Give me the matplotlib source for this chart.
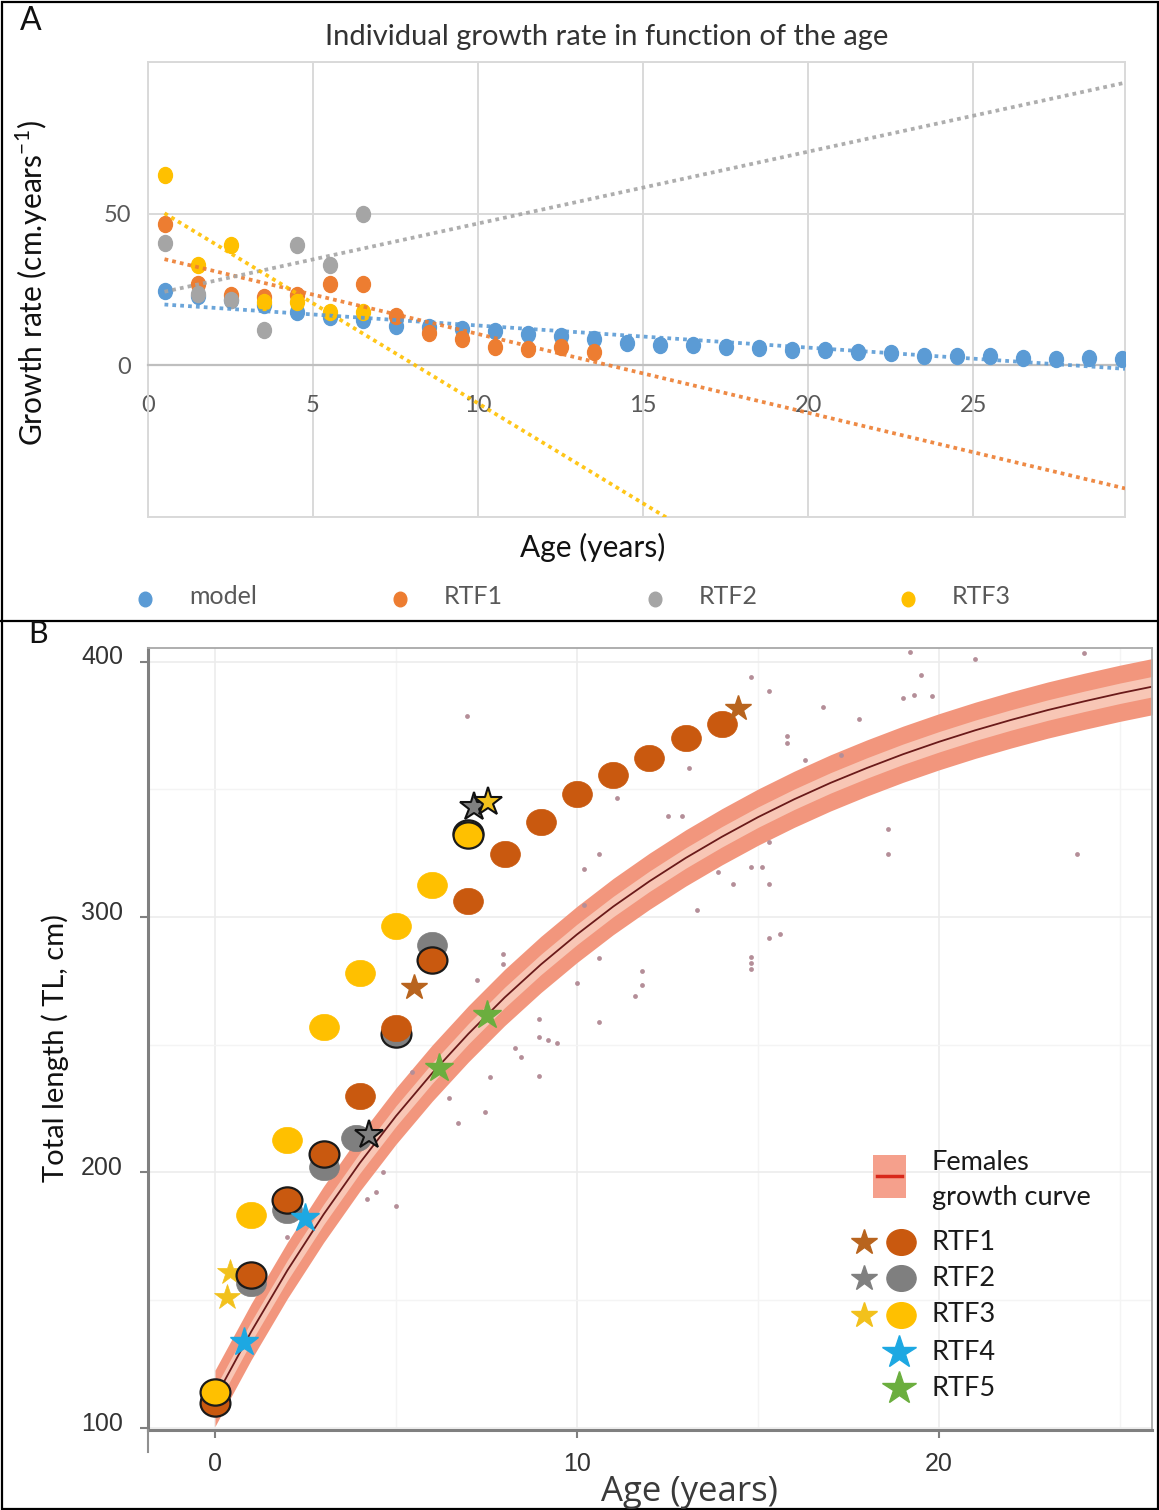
import numpy as np
import matplotlib
matplotlib.use('Agg')
import matplotlib.pyplot as plt
from matplotlib.path import Path
from matplotlib.transforms import Affine2D, ScaledTranslation
from matplotlib.patches import Rectangle

W, H, DPI = 1159, 1510, 100

# ---------------- Panel A data ----------------
age_a = [0.5, 1.5, 2.5, 3.5, 4.5, 5.5, 6.5, 7.5, 8.5, 9.5, 10.5, 11.5, 12.5, 13.5, 14.5,
         15.5, 16.5, 17.5, 18.5, 19.5, 20.5, 21.5, 22.5, 23.5, 24.5, 25.5, 26.5, 27.5, 28.5, 29.5]
model_rate = [24.5, 23.0, 21.5, 20.0, 17.5, 16.0, 15.0, 13.0, 12.5, 12.0, 11.3, 10.4, 9.8, 8.8, 7.4,
              6.8, 6.6, 5.9, 5.8, 5.0, 4.9, 4.3, 4.0, 3.2, 3.1, 3.2, 2.4, 2.2, 2.3, 2.2]
rtf1_rate = [46.5, 26.9, 23.1, 22.5, 23.1, 26.9, 26.9, 16.3, 10.7, 8.8, 6.0, 5.5, 6.0, 4.4]
rtf2_rate = [40.3, 23.6, 21.4, 11.5, 39.8, 33.0, 50.0]
rtf3_rate = [62.6, 33.0, 39.8, 20.9, 20.9, 17.6, 17.6]
series_a_names = ['model', 'RTF1', 'RTF2', 'RTF3']
series_a_colors = ['#5B9BD5', '#ED7D31', '#A5A5A5', '#FFC000']
xticks_a = [0, 5, 10, 15, 20, 25]
yticks_a = [-50, 0, 50, 100]
yticklabels_a = ['', '0', '50', '']

# ---------------- Panel B data ----------------
curve_age = [0, 1, 2, 3, 4, 5, 6, 7, 8, 9, 10, 11, 12, 13, 14, 15, 16, 17, 18, 19, 20,
             21, 22, 23, 24, 25, 26]
curve_len = [111.6, 137.7, 161.7, 183.6, 203.7, 222.1, 238.9, 254.3, 268.5, 281.4, 293.2,
             304.1, 314.0, 323.1, 331.4, 339.1, 346.1, 352.5, 358.3, 363.7, 368.6, 373.1,
             377.2, 381.0, 384.4, 387.6, 390.5]
band_half = 11.0

obs_age = [14.8, 15.3, 19.2, 21.0, 24.0, 19.5, 19.0, 19.3, 19.8, 16.8, 17.8, 15.8, 15.8, 16.3,
           17.3, 13.1, 11.1, 12.5, 12.9, 15.3, 18.6, 18.6, 23.8, 10.6, 10.2, 14.8, 15.1, 13.9,
           14.3, 15.3, 10.2, 13.3, 15.3, 15.6, 7.95, 7.95, 10.6, 14.8, 14.8, 14.8, 11.8, 11.8,
           11.6, 10.0, 10.6, 8.95, 8.95, 9.2, 9.45, 8.3, 8.45, 8.95, 5.45, 6.45, 6.7, 7.45, 7.6,
           4.65, 4.45, 4.2, 5.0, 2.0, 6.95, 7.25]
obs_len = [393.9, 388.3, 403.9, 400.9, 403.2, 394.8, 385.7, 387.0, 386.4, 382.2, 377.7, 370.8,
           368.2, 361.3, 363.6, 358.4, 346.4, 339.6, 339.6, 329.2, 334.4, 324.7, 324.7, 324.7,
           318.6, 319.5, 319.5, 317.5, 313.0, 313.0, 304.8, 302.6, 291.6, 293.5, 285.5, 281.5,
           284.0, 284.5, 282.0, 279.5, 278.8, 273.4, 269.2, 274.0, 259.1, 260.1, 253.2, 252.0,
           250.6, 248.7, 245.1, 237.7, 239.3, 229.3, 219.4, 223.7, 237.4, 200.0, 192.4, 189.5,
           186.8, 174.9, 378.8, 275.2]

rtf1_age = [0, 1, 2, 3, 4, 5, 6, 7, 8, 9, 10, 11, 12, 13, 14]
rtf1_len = [109.8, 159.9, 189.2, 207.2, 230.1, 256.4, 283.2, 306.4, 324.5, 337.3, 348.1,
            355.5, 362.3, 370.1, 375.7]
rtf1_outlined = [1, 1, 1, 1, 0, 0, 1, 0, 0, 0, 0, 0, 0, 0, 0]
rtf1_star_age = [5.5, 14.45]
rtf1_star_len = [272.5, 381.8]

rtf2_age = [0, 1, 2, 3, 3.9, 5, 6, 7]
rtf2_len = [111.0, 156.6, 185.3, 202.3, 213.4, 254.4, 289.1, 332.7]
rtf2_outlined = [0, 0, 0, 0, 0, 1, 0, 1]
rtf2_star_age = [4.25, 7.15]
rtf2_star_len = [214.7, 343.2]

rtf3_age = [0, 1, 2, 3, 4, 5, 6, 7]
rtf3_len = [114.2, 183.4, 212.7, 257.1, 278.2, 296.5, 312.5, 332.1]
rtf3_outlined = [1, 0, 0, 0, 0, 0, 0, 1]
rtf3_star_age = [0.32, 0.42, 7.55]
rtf3_star_len = [151.4, 161.2, 345.1]
rtf3_star_outlined = [0, 0, 1]

rtf4_star_age = [0.8, 2.5]
rtf4_star_len = [133.8, 182.1]
rtf5_star_age = [6.2, 7.5]
rtf5_star_len = [240.8, 261.6]

legend_b_names = ['RTF1', 'RTF2', 'RTF3', 'RTF4', 'RTF5']
c_rtf1, c_rtf1_star = '#C9590F', '#B8641E'
c_rtf2, c_rtf2_star = '#7F7F7F', '#808080'
c_rtf3, c_rtf3_star = '#FFC000', '#F2C11C'
c_rtf4, c_rtf5 = '#1DA8E2', '#6BAE3E'
c_band, c_band_in, c_curve = '#F2967D', '#F8C6B5', '#6A1A1A'
c_obs = '#B48E98'

xticks_b = [0, 10, 20]
yticks_b = [100, 200, 300, 400]

# ---------------- Figure ----------------
fig = plt.figure(figsize=(W / DPI, H / DPI), dpi=DPI)
FONT = ['Lato', 'DejaVu Sans']

ell_tall = Path.unit_circle().transformed(Affine2D().scale(0.87, 1.0))
ell_wide = Path.unit_circle().transformed(Affine2D().scale(1.0, 0.88))

# Panel A
axA = fig.add_axes([148 / W, 1 - 517 / H, 977 / W, 455 / H])
axA.set_xlim(0, 29.6)
axA.set_ylim(-50, 100)
axA.set_axisbelow(True)
axA.set_xticks(xticks_a)
axA.set_xticklabels([str(v) for v in xticks_a])
axA.set_yticks(yticks_a)
axA.set_yticklabels(yticklabels_a)
axA.grid(True, color='#d9d9d9', lw=1.4)
axA.spines['bottom'].set_position(('data', 0))
axA.spines['bottom'].set_color('#bfbfbf')
axA.spines['bottom'].set_linewidth(1.6)
for s in ['top', 'left', 'right']:
    axA.spines[s].set_color('#d9d9d9')
    axA.spines[s].set_linewidth(1.4)
axA.axhline(-50, color='#d9d9d9', lw=1.4, clip_on=False, zorder=0.5)
axA.tick_params(length=0, labelcolor='#595959', labelsize=17)
axA.tick_params(axis='x', pad=21)
axA.tick_params(axis='y', pad=12)
for lab in axA.get_xticklabels() + axA.get_yticklabels():
    lab.set_family(FONT)

series_a = [(age_a, model_rate), (age_a[:len(rtf1_rate)], rtf1_rate),
            (age_a[:len(rtf2_rate)], rtf2_rate), (age_a[:len(rtf3_rate)], rtf3_rate)]
for (xs, ys), col in zip(series_a, series_a_colors):
    axA.plot(xs, ys, ls='none', marker=ell_tall, ms=11.5, color=col, mec=col, zorder=3)
xfit = np.array([0.5, 29.6])
for (xs, ys), col in zip(series_a, series_a_colors):
    coef = np.polyfit(xs, ys, 1)
    axA.plot(xfit, np.polyval(coef, xfit), ls=(0, (1, 1.1)), lw=2.7, color=col,
             alpha=0.9, zorder=4)

# Panel B
axB = fig.add_axes([148 / W, 1 - 1430 / H, 1004 / W, 782 / H])
axB.set_xlim(-1.85, 25.88)
axB.set_ylim(99.2, 405.3)
axB.set_axisbelow(True)
axB.set_xticks(xticks_b)
axB.set_xticks([5, 15, 25], minor=True)
axB.set_yticks(yticks_b)
axB.set_yticks([150, 250, 350], minor=True)
axB.grid(True, which='major', color='#ececec', lw=1.2)
axB.grid(True, which='minor', color='#f4f4f4', lw=1.0)
for s in ['left', 'bottom']:
    axB.spines[s].set_color('#808080')
    axB.spines[s].set_linewidth(2.2)
for s in ['top', 'right']:
    axB.spines[s].set_color('#a8a8a8')
    axB.spines[s].set_linewidth(1.3)
axB.tick_params(which='major', direction='out', length=6, width=1.5, color='#808080',
                labelcolor='#333333')
axB.tick_params(which='minor', length=0)
axB.tick_params(axis='x', labelsize=18, pad=10)
axB.tick_params(axis='y', labelsize=18, pad=12)
for lab in axB.get_xticklabels() + axB.get_yticklabels():
    lab.set_family(['Liberation Sans', 'DejaVu Sans'])
for lab in axB.get_yticklabels():
    lab.set_transform(lab.get_transform() + ScaledTranslation(0, 5 / 72, fig.dpi_scale_trans))

ca = np.array(curve_age, dtype=float)
cl = np.array(curve_len, dtype=float)
axB.fill_between(ca, cl - band_half, cl + band_half, color=c_band, lw=0, zorder=1)
axB.fill_between(ca, cl - 4.0, cl + 4.0, color=c_band_in, lw=0, zorder=1.1)
axB.plot(ca, cl, color=c_curve, lw=1.3, zorder=1.2)

axB.scatter(obs_age, obs_len, s=12, color=c_obs, lw=0, zorder=2)


def circles(ax, xs, ys, col, outl, z):
    for x, y, o in zip(xs, ys, outl):
        ax.plot([x], [y], ls='none', marker=ell_wide, ms=21.5, color=col,
                mec='#1a1a1a' if o else col, mew=1.6 if o else 0.5, zorder=z)


circles(axB, rtf2_age, rtf2_len, c_rtf2, rtf2_outlined, 3)
circles(axB, rtf1_age, rtf1_len, c_rtf1, rtf1_outlined, 3.1)
circles(axB, rtf3_age, rtf3_len, c_rtf3, rtf3_outlined, 3.2)

axB.plot(rtf1_star_age, rtf1_star_len, ls='none', marker='*', ms=19, color=c_rtf1_star,
         mec=c_rtf1_star, zorder=4)
axB.plot(rtf2_star_age, rtf2_star_len, ls='none', marker='*', ms=21, color=c_rtf2_star,
         mec='#111111', mew=1.5, zorder=4)
for x, y, o in zip(rtf3_star_age, rtf3_star_len, rtf3_star_outlined):
    axB.plot([x], [y], ls='none', marker='*', ms=21 if o else 19, color=c_rtf3_star,
             mec='#111111' if o else c_rtf3_star, mew=1.5 if o else 0.5, zorder=4.1 if o else 2.9)
axB.plot(rtf4_star_age, rtf4_star_len, ls='none', marker='*', ms=21, color=c_rtf4,
         mec=c_rtf4, zorder=4)
axB.plot(rtf5_star_age, rtf5_star_len, ls='none', marker='*', ms=21, color=c_rtf5,
         mec=c_rtf5, zorder=4)

# ---------------- Overlay (frames, labels, legends) ----------------
ov = fig.add_axes([0, 0, 1, 1], zorder=10)
ov.set_xlim(0, W)
ov.set_ylim(H, 0)
ov.axis('off')
ov.patch.set_visible(False)
ov.add_patch(Rectangle((1.5, 1.5), W - 3, H - 3, fill=False, ec='black', lw=1.6))
ov.plot([0, W], [621, 621], color='black', lw=1.6)
ov.plot([148, 148], [1430, 1452], color='#909090', lw=1.5)

ov.text(31, 21, 'A', fontsize=23, family=FONT, ha='center', va='center', color='#111111')
ov.text(38, 634, 'B', fontsize=22, family=FONT, ha='center', va='center', color='#111111')
ov.text(607, 37, 'Individual growth rate in function of the age', fontsize=21,
        family=FONT, ha='center', va='center', color='#333333')
ov.text(32, 283, 'Growth rate (cm.years$^{\\mathregular{-1}}$)', fontsize=21.5, family=FONT,
        rotation=90, ha='center', va='center', color='#111111')
ov.text(593, 547, 'Age (years)', fontsize=21.5, family=FONT, ha='center', va='center',
        color='#111111')

legA_x = [145, 400, 655, 908]
for name, col, x in zip(series_a_names, series_a_colors, legA_x):
    ov.plot([x], [599], ls='none', marker=ell_tall, ms=10.5, color=col)
    ov.text(x + 44, 596, name, fontsize=18, family=FONT, ha='left', va='center',
            color='#595959')

ov.text(55, 1048, 'Total length ( TL, cm)', fontsize=21, family=FONT, rotation=90,
        ha='center', va='center', color='#111111')
ov.text(689, 1492, 'Age (years)', fontsize=25, family=['Open Sans', 'DejaVu Sans'],
        ha='center', va='center', color='#3a3a3a')

# legend B
ov.add_patch(Rectangle((873, 1155), 33, 43, color='#F5A08C', lw=0))
ov.plot([877, 902], [1176, 1176], color='#D8281A', lw=2.5)
ov.text(932, 1162, 'Females', fontsize=19.5, family=FONT, ha='left', va='center',
        color='#1a1a1a')
ov.text(932, 1197, 'growth curve', fontsize=19.5, family=FONT, ha='left', va='center',
        color='#1a1a1a')
rows_y = [1242, 1278, 1315, 1352, 1388]
star_cols = [c_rtf1_star, c_rtf2_star, c_rtf3_star, c_rtf4, c_rtf5]
circ_cols = [c_rtf1, c_rtf2, c_rtf3, None, None]
for name, y, sc, cc in zip(legend_b_names, rows_y, star_cols, circ_cols):
    if cc is not None:
        ov.plot([864], [y], ls='none', marker='*', ms=19, color=sc)
        ov.plot([901], [y], ls='none', marker=ell_wide, ms=21, color=cc)
    else:
        ov.plot([899], [y], ls='none', marker='*', ms=25, color=sc)
    ov.text(931, y, name, fontsize=19.5, family=FONT, ha='left', va='center', color='#1a1a1a')

fig.savefig('out.png', dpi=DPI)
